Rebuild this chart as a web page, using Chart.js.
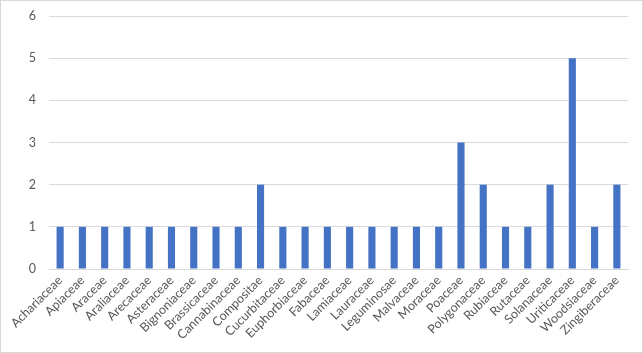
<!DOCTYPE html>
<html><head><meta charset="utf-8">
<script src="https://cdn.jsdelivr.net/npm/chart.js@4/dist/chart.umd.min.js"></script>
<style>
html,body{margin:0;padding:0;background:#fff;}
#wrap{position:absolute;left:0;top:0;width:641px;height:351px;border:1px solid #d9d9d9;}
</style></head><body>
<div id="wrap"><canvas id="c" width="641" height="351"></canvas></div>
<script>
const categories = ["Achariaceae","Apiaceae","Araceae","Araliaceae","Arecaceae","Asteraceae","Bignoniaceae","Brassicaceae","Cannabinaceae","Compositae","Cucurbitaceae","Euphorbiaceae","Fabaceae","Lamiaceae","Lauraceae","Leguminosae","Malvaceae","Moraceae","Poaceae","Polygonaceae","Rubiaceae","Rutaceae","Solanaceae","Uriticaceae","Woodsiaceae","Zingiberaceae"];
const counts = [1,1,1,1,1,1,1,1,1,2,1,1,1,1,1,1,1,1,3,2,1,1,2,5,1,2];
const yTicks = [0,1,2,3,4,5,6];

new Chart(document.getElementById('c'), {
  type: 'bar',
  data: { labels: categories, datasets: [{ data: counts, backgroundColor: '#4472c4', barPercentage: 0.32, categoryPercentage: 1 }] },
  options: {
    responsive: false, animation: false,
    layout: { padding: { left: 0, right: 14, top: 15, bottom: 0 } },
    plugins: { legend: { display: false }, tooltip: { enabled: false } },
    scales: {
      x: {
        grid: { display: false, drawTicks: false },
        border: { color: '#d9d9d9' },
        ticks: { color: '#595959', font: { family: 'Lato', size: 12.5 }, minRotation: 45, maxRotation: 45, autoSkip: false, padding: 4 },
        afterFit: (s) => { s.height = 83; s.paddingTop = 0; s.paddingBottom = 0; }
      },
      y: {
        min: 0, max: 6,
        afterBuildTicks: (s) => { s.ticks = yTicks.map(v => ({ value: v })); },
        grid: { color: '#d9d9d9', drawTicks: false },
        border: { display: false },
        ticks: { color: '#595959', font: { family: 'Lato', size: 12.5 }, padding: 13 },
        afterFit: (s) => { s.width = 48; s.paddingTop = 0; s.paddingBottom = 0; }
      }
    }
  }
});
</script>
</body></html>
